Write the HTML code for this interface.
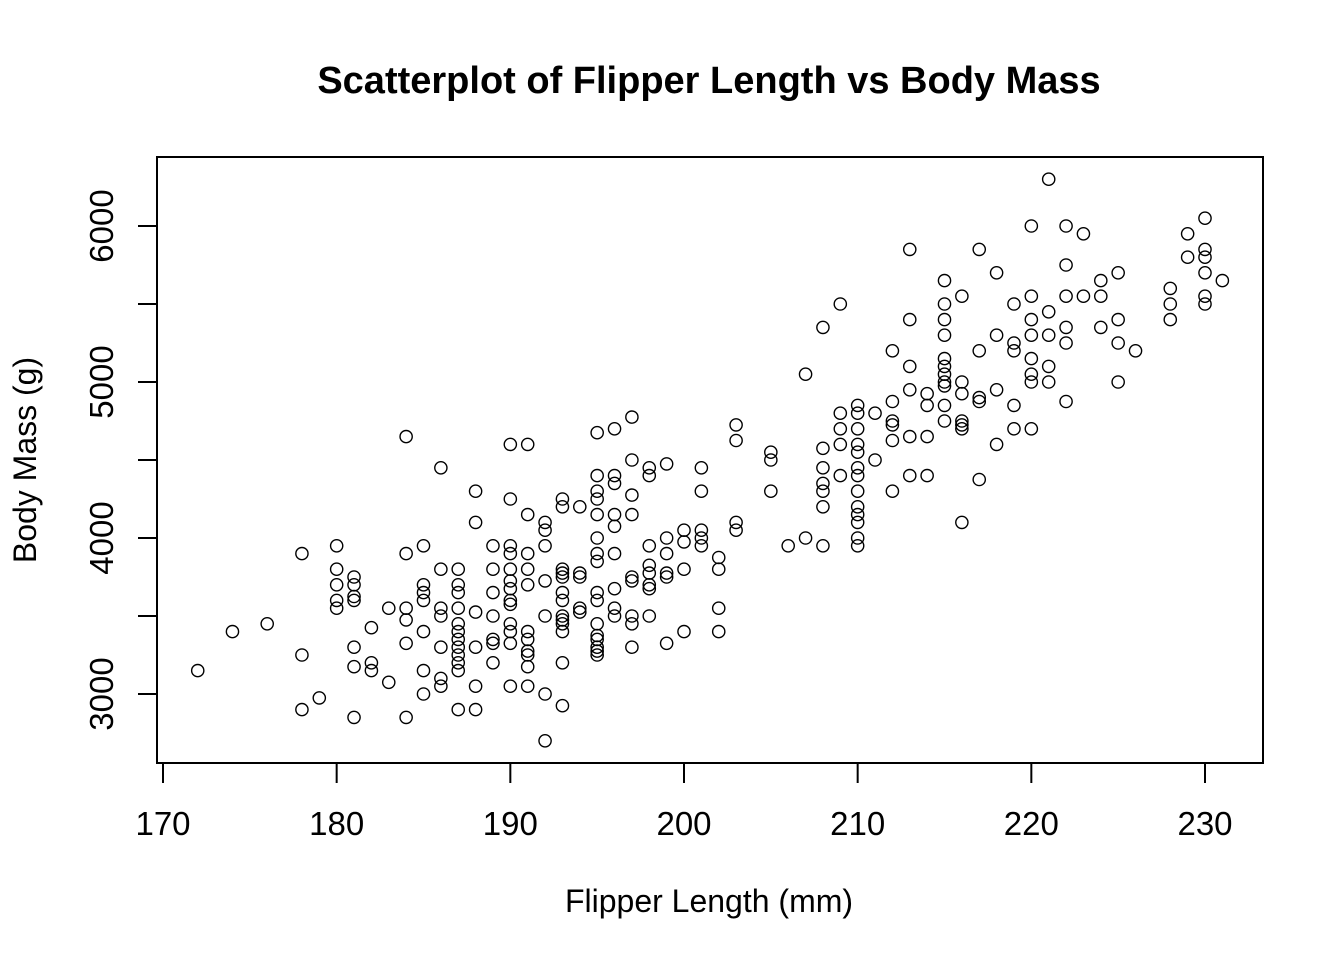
<!DOCTYPE html>
<html><head><meta charset="utf-8"><style>
html,body{margin:0;padding:0;background:#fff;}
svg{display:block;font-family:"Liberation Sans",Arial,sans-serif;}
</style></head><body>
<svg id="chart" width="1344" height="960" viewBox="0 0 1344 960">
<text x="709" y="93" text-anchor="middle" font-size="38" font-weight="bold">Scatterplot of Flipper Length vs Body Mass</text>
<rect x="157" y="157" width="1106" height="606" fill="none" stroke="#000" stroke-width="2"/>
<g id="xaxis"></g>
<g id="yaxis"></g>
<g id="pts"></g>
<text x="709" y="912" text-anchor="middle" font-size="32">Flipper Length (mm)</text>
<text transform="translate(36,460) rotate(-90)" text-anchor="middle" font-size="32">Body Mass (g)</text>
</svg>
<script>
const xTicks=[170,180,190,200,210,220,230];
const yTicks=[3000,4000,5000,6000];
const yMinorTicks=[3500,4500,5500];
const flipper=[172,174,176,178,178,178,179,180,180,180,180,180,181,181,181,181,181,181,181,182,182,182,183,183,184,184,184,184,184,184,185,185,185,185,185,185,185,186,186,186,186,186,186,186,187,187,187,187,187,187,187,187,187,187,187,187,188,188,188,188,188,188,189,189,189,189,189,189,189,190,190,190,190,190,190,190,190,190,190,190,190,190,191,191,191,191,191,191,191,191,191,191,191,192,192,192,192,192,192,192,193,193,193,193,193,193,193,193,193,193,193,193,193,194,194,194,194,194,195,195,195,195,195,195,195,195,195,195,195,195,195,195,195,195,196,196,196,196,196,196,196,196,196,197,197,197,197,197,197,197,197,197,198,198,198,198,198,198,198,198,199,199,199,199,199,199,200,200,200,200,201,201,201,201,201,202,202,202,202,203,203,203,203,205,205,205,206,207,207,208,208,208,208,208,208,208,209,209,209,209,209,210,210,210,210,210,210,210,210,210,210,210,210,210,211,211,212,212,212,212,212,212,213,213,213,213,213,213,214,214,214,214,215,215,215,215,215,215,215,215,215,215,215,216,216,216,216,216,216,216,217,217,217,217,217,218,218,218,218,219,219,219,219,219,220,220,220,220,220,220,220,220,221,221,221,221,221,222,222,222,222,222,222,223,223,224,224,224,225,225,225,225,226,228,228,228,229,229,230,230,230,230,230,230,231];
const mass=[3150,3400,3450,3900,3250,2900,2975,3950,3800,3700,3600,3550,3750,3700,3625,3600,3300,3175,2850,3425,3200,3150,3550,3075,4650,3900,3550,3475,3325,2850,3950,3700,3650,3600,3400,3150,3000,4450,3800,3550,3500,3300,3100,3050,3800,3700,3650,3550,3450,3400,3350,3300,3250,3200,3150,2900,4300,4100,3525,3300,3050,2900,3950,3800,3650,3500,3350,3325,3200,4600,4250,3950,3900,3800,3725,3675,3600,3575,3450,3400,3325,3050,4600,4150,3900,3800,3700,3400,3350,3275,3250,3175,3050,4100,4050,3950,3725,3500,3000,2700,4250,4200,3800,3775,3750,3650,3600,3500,3475,3450,3400,3200,2925,4200,3775,3750,3550,3525,4675,4400,4300,4250,4150,4000,3900,3850,3650,3600,3450,3375,3350,3300,3275,3250,4700,4400,4350,4150,4075,3900,3675,3550,3500,4775,4500,4275,4150,3750,3725,3500,3450,3300,4450,4400,3950,3825,3775,3700,3675,3500,4475,4000,3900,3775,3750,3325,4050,3975,3800,3400,4450,4300,4050,4000,3950,3875,3800,3550,3400,4725,4625,4100,4050,4550,4500,4300,3950,5050,4000,5350,4575,4450,4350,4300,4200,3950,5500,4800,4700,4600,4400,4850,4800,4700,4600,4550,4450,4400,4300,4200,4150,4100,4000,3950,4800,4500,5200,4875,4750,4725,4625,4300,5850,5400,5100,4950,4650,4400,4925,4850,4650,4400,5650,5500,5400,5300,5150,5100,5050,5000,4975,4850,4750,5550,5000,4925,4750,4725,4700,4100,5850,5200,4900,4875,4375,5700,5300,4950,4600,5500,5250,5200,4850,4700,6000,5550,5400,5300,5150,5050,5000,4700,6300,5450,5300,5100,5000,6000,5750,5550,5350,5250,4875,5950,5550,5650,5550,5350,5700,5400,5250,5000,5200,5600,5500,5400,5950,5800,6050,5850,5800,5700,5550,5500,5650];
const NS="http://www.w3.org/2000/svg";
const xS=v=>163+(v-170)*(1205-163)/60;
const yS=v=>694-(v-3000)*(694-226)/3000;
function mk(t,a,p){const e=document.createElementNS(NS,t);for(const k in a)e.setAttribute(k,a[k]);p.appendChild(e);return e;}
const xa=document.getElementById('xaxis'),ya=document.getElementById('yaxis'),pts=document.getElementById('pts');
xTicks.forEach(v=>{
 const l=mk('line',{x1:xS(v),x2:xS(v),y1:763,y2:783,stroke:'#000','stroke-width':2},xa);
 
 
 const t=mk('text',{x:xS(v),y:835,'text-anchor':'middle','font-size':33},xa);
 
 
 t.textContent=v;
});
yTicks.concat(yMinorTicks).forEach(v=>{
 const l=mk('line',{x1:138,x2:157,y1:yS(v),y2:yS(v),stroke:'#000','stroke-width':2},ya);
 
 
});
yTicks.forEach(v=>{
 const t=mk('text',{transform:`translate(113,${yS(v)}) rotate(-90)`,'text-anchor':'middle','font-size':33},ya);
 
 
 t.textContent=v;
});
flipper.forEach((f,i)=>{
 const c=mk('circle',{cx:xS(f),cy:yS(mass[i]),r:6.1,fill:'none',stroke:'#000','stroke-width':1.4},pts);
 
 
});
</script>
</body></html>
